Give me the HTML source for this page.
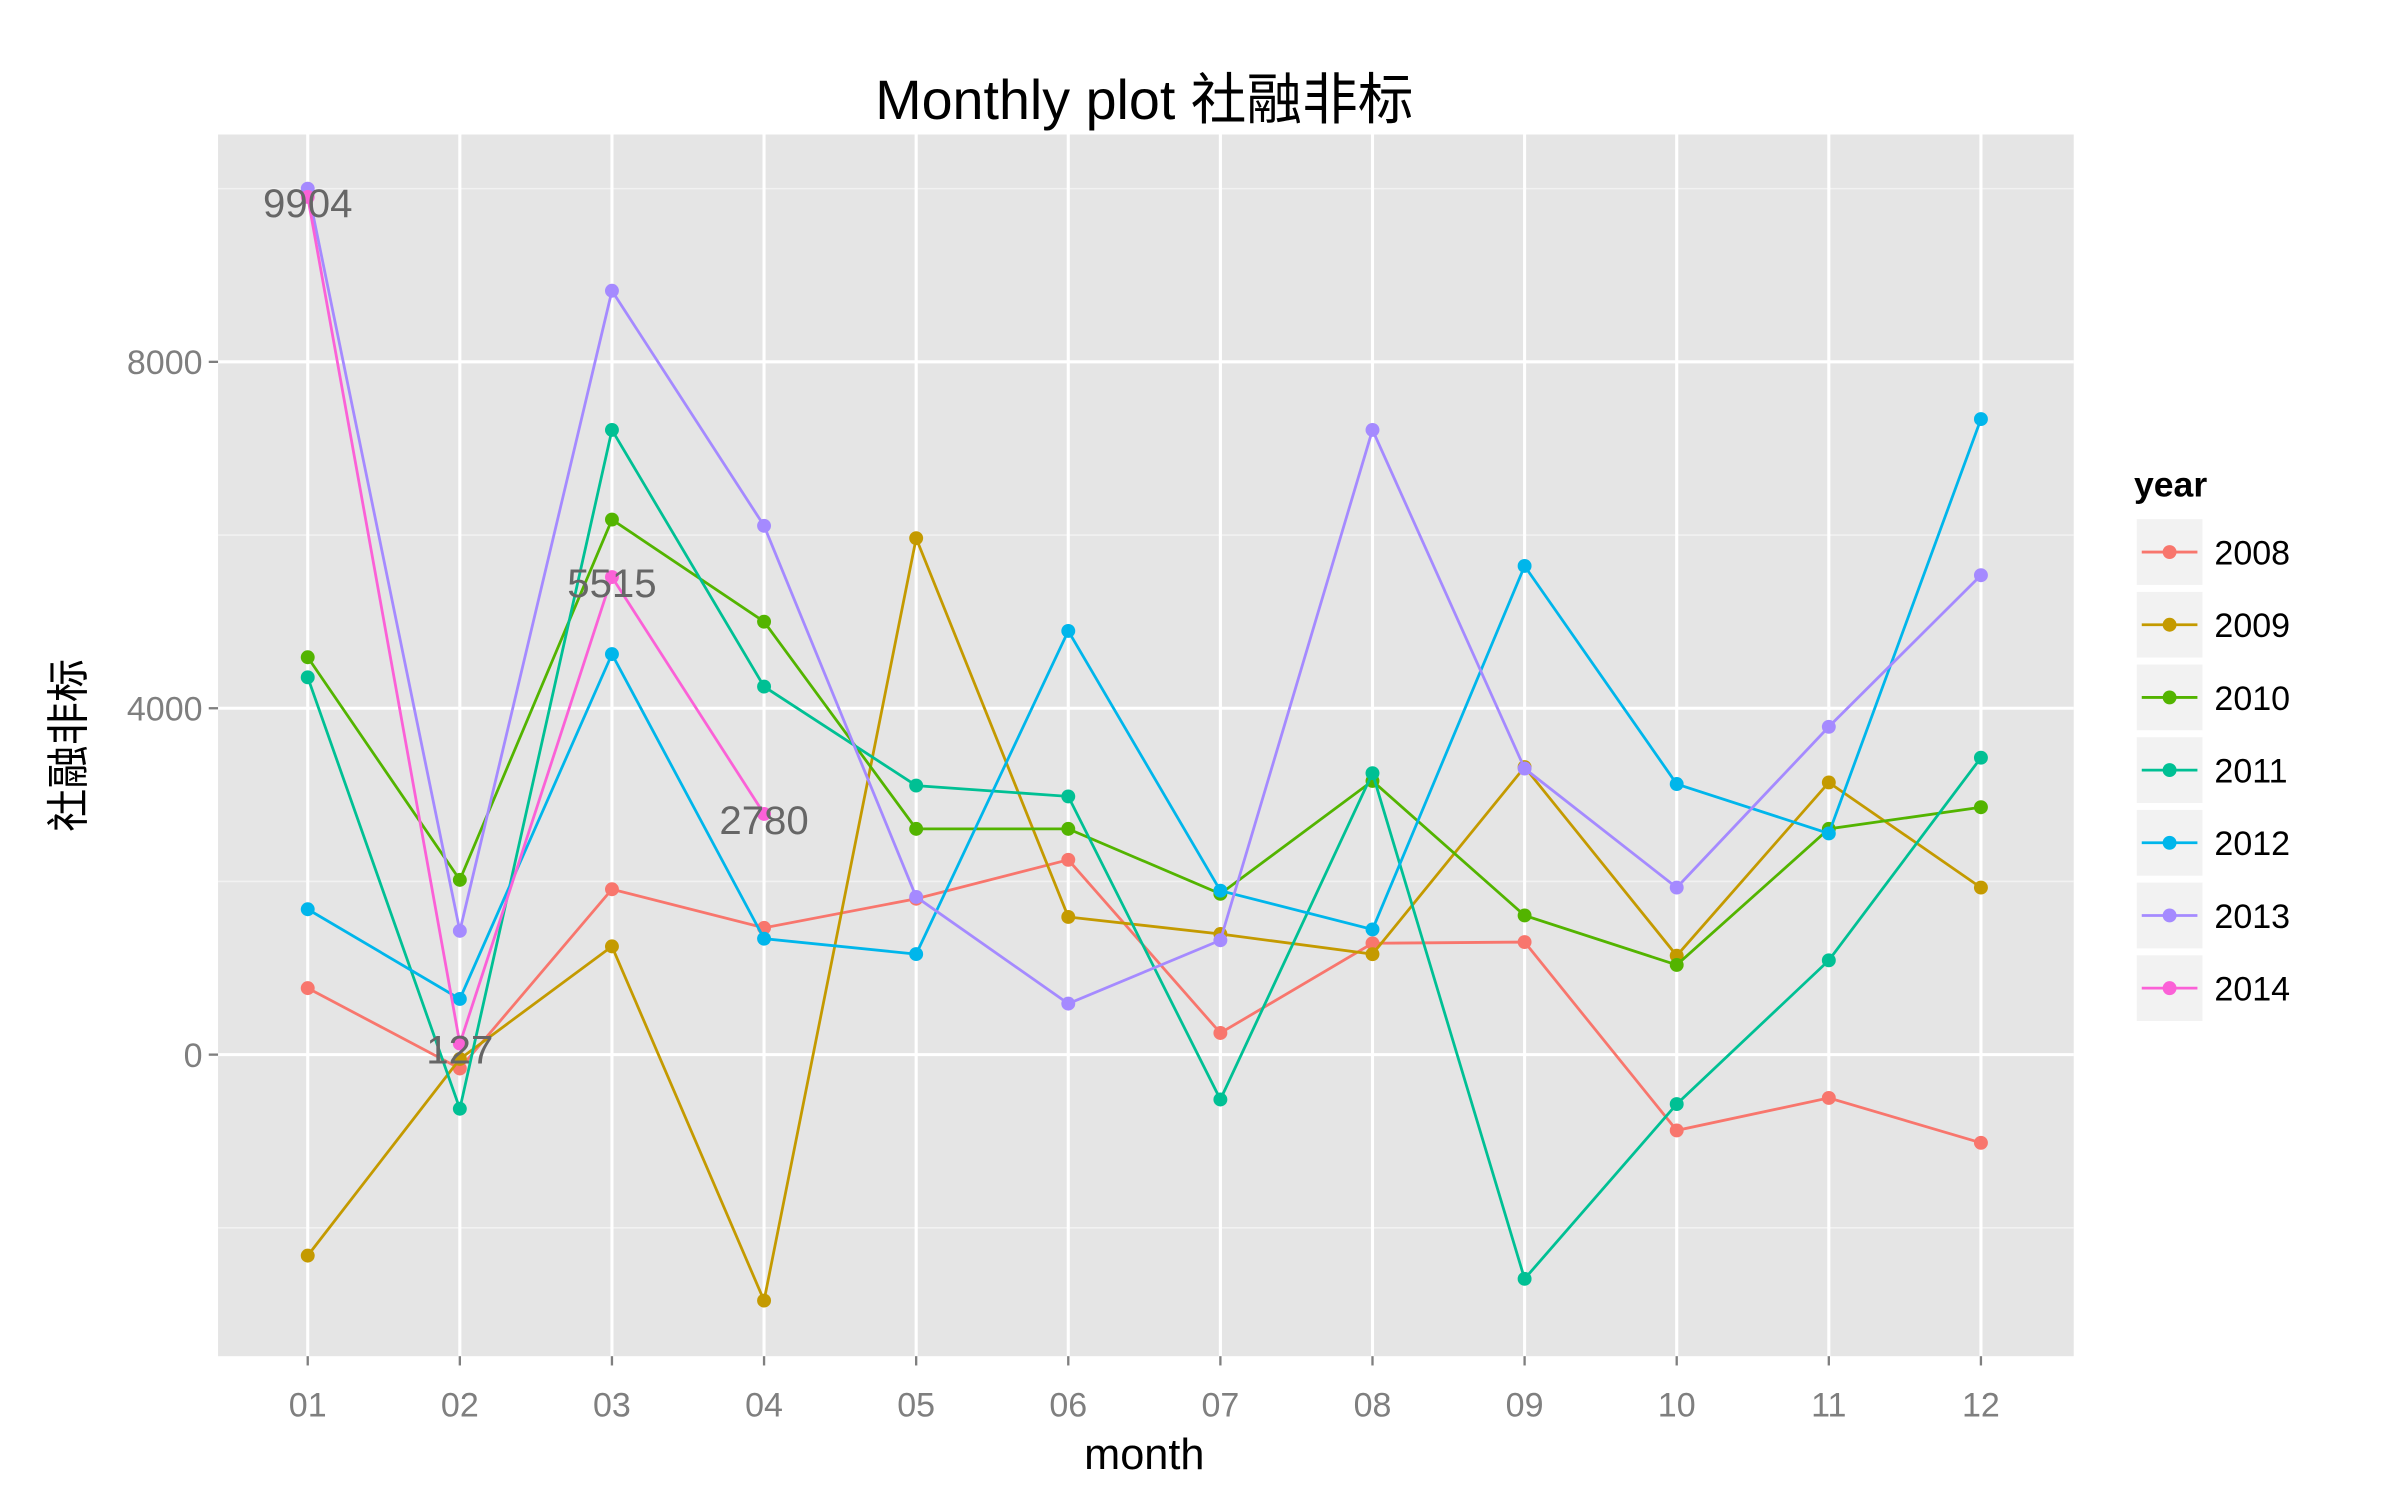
<!DOCTYPE html>
<html><head><meta charset="utf-8"><style>
html,body{margin:0;padding:0;background:#fff;}
svg{display:block;}
text{font-family:"Liberation Sans","Noto Sans CJK SC",sans-serif;}
</style></head><body>
<svg id="chart" width="2400" height="1500" viewBox="0 0 1552 970" xmlns="http://www.w3.org/2000/svg">
<rect width="1552" height="970" fill="#fff"/>
<text x="740" y="77" font-size="36" text-anchor="middle" fill="#000">Monthly plot 社融非标</text>
<rect x="141" y="87" width="1200" height="790" fill="#e5e5e5"/>
<g id="grid"></g>
<g id="series"></g>
<g id="labels"></g>
<g id="axes"></g>
<text x="740" y="950" font-size="28" text-anchor="middle" fill="#000">month</text>
<text transform="translate(54,482) rotate(-90)" font-size="28" text-anchor="middle" fill="#000">社融非标</text>
<text x="1380" y="321" font-size="23" font-weight="bold" fill="#000">year</text>
<g id="legend"></g>
</svg>
<script>
const months = ["01","02","03","04","05","06","07","08","09","10","11","12"];
const years = ["2008","2009","2010","2011","2012","2013","2014"];
const colors = ["#F8766D","#C49A00","#53B400","#00C094","#00B6EB","#A58AFF","#FB61D7"];
const s2008 = [768,-160,1910,1464,1800,2250,250,1286,1300,-875,-500,-1018];
const s2009 = [-2321,-50,1250,-2840,5964,1590,1393,1160,3321,1143,3143,1929];
const s2010 = [4589,2018,6179,5000,2607,2607,1857,3161,1607,1036,2607,2857];
const s2011 = [4357,-625,7214,4250,3107,2982,-518,3250,-2589,-571,1089,3429];
const s2012 = [1679,643,4625,1339,1161,4893,1893,1446,5643,3125,2554,7339];
const s2013 = [10000,1429,8821,6107,1821,589,1321,7214,3304,1929,3786,5536];
const s2014 = [9904,127,5515,2780];
const labelValues = [9904,127,5515,2780];
const yTicks = [0,4000,8000];
const yMinor = [-2000,2000,6000,10000];
const allSeries = [s2008,s2009,s2010,s2011,s2012,s2013,s2014];

const NS="http://www.w3.org/2000/svg";
function xS(i){return 199+i*(1281-199)/11;}
function yS(v){return 682-v*0.056;}
function mk(tag,attrs,parent){const e=document.createElementNS(NS,tag);for(const k in attrs)e.setAttribute(k,attrs[k]);parent.appendChild(e);return e;}
const grid=document.getElementById('grid'),ser=document.getElementById('series'),lab=document.getElementById('labels'),ax=document.getElementById('axes'),leg=document.getElementById('legend');
yMinor.forEach(v=>{const l=mk('line',{x1:141,x2:1341,y1:yS(v),y2:yS(v),stroke:'#f2f2f2','stroke-width':1},grid);

});
yTicks.forEach(v=>{const l=mk('line',{x1:141,x2:1341,y1:yS(v),y2:yS(v),stroke:'#fff','stroke-width':2},grid);


const t=mk('line',{x1:135,x2:141,y1:yS(v),y2:yS(v),stroke:'#7f7f7f','stroke-width':1.5},ax);


const tx=mk('text',{x:131,y:yS(v)+8,'font-size':22,'text-anchor':'end',fill:'#7f7f7f'},ax);tx.textContent=v;

});
months.forEach((m,i)=>{const l=mk('line',{x1:xS(i),x2:xS(i),y1:87,y2:877,stroke:'#fff','stroke-width':2},grid);


const t=mk('line',{x1:xS(i),x2:xS(i),y1:877,y2:883,stroke:'#7f7f7f','stroke-width':1.5},ax);


const tx=mk('text',{x:xS(i),y:916,'font-size':22,'text-anchor':'middle',fill:'#7f7f7f'},ax);tx.textContent=m;

});
allSeries.forEach((d,k)=>{const g=mk('g',{},ser);


const pl=mk('polyline',{points:d.map((v,i)=>xS(i)+','+yS(v)).join(' '),fill:'none',stroke:colors[k],'stroke-width':1.8},g);


d.forEach((v,i)=>{const c=mk('circle',{cx:xS(i),cy:yS(v),r:4.5,fill:colors[k]},g);

});});
labelValues.forEach((v,i)=>{const t=mk('text',{x:xS(i),y:yS(v)+13,'font-size':26,'text-anchor':'middle',fill:'#666'},lab);t.textContent=v;

});
years.forEach((y,k)=>{const cy=357+k*47;const g=mk('g',{},leg);


mk('rect',{x:1381,y:cy-22,width:44,height:44,fill:'#f2f2f2',stroke:'#fff','stroke-width':1.5},g);
mk('line',{x1:1385,x2:1421,y1:cy,y2:cy,stroke:colors[k],'stroke-width':1.8},g);
mk('circle',{cx:1403,cy:cy,r:4.5,fill:colors[k]},g);
const t=mk('text',{x:1432,y:cy+8,'font-size':22,fill:'#000'},g);t.textContent=y;});
</script>
</body></html>
